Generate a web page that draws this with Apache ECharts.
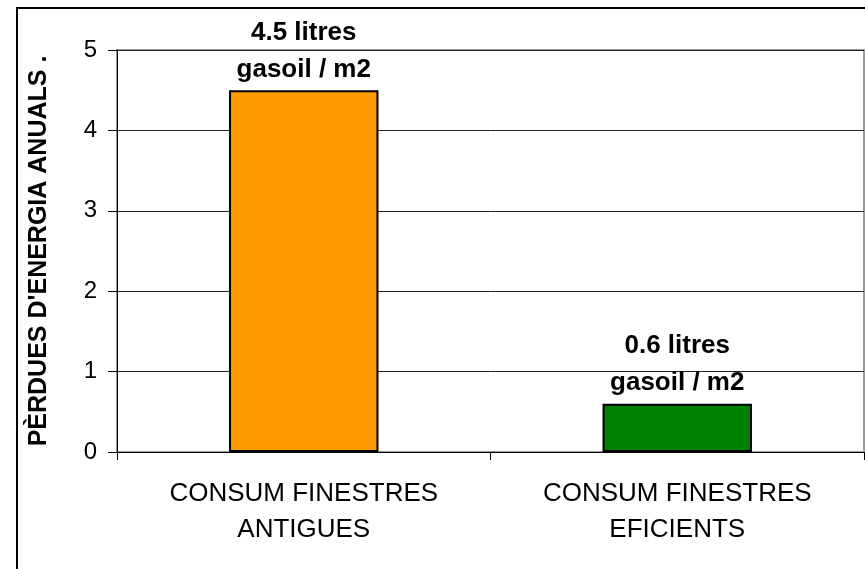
<!DOCTYPE html>
<html>
<head>
<meta charset="utf-8">
<title>Pèrdues d'energia anuals</title>
<script src="https://cdn.jsdelivr.net/npm/echarts@6/dist/echarts.min.js"></script>
<style>
html, body { margin: 0; padding: 0; background: #fff; }
#chart { width: 865px; height: 569px; }
</style>
</head>
<body>
<div id="chart"></div>
<script>
// dades del gràfic
var categories = ['CONSUM FINESTRES\nANTIGUES', 'CONSUM FINESTRES\nEFICIENTS'];
var values = [4.5, 0.6];
var barColors = ['#FF9900', '#008000'];
var barLabels = ['4.5 litres\ngasoil / m2', '0.6 litres\ngasoil / m2'];
var yTicks = [0, 1, 2, 3, 4, 5];

var chart = echarts.init(document.getElementById('chart'));
var font = '"Liberation Sans", Arial, sans-serif';

var option = {
	animation: false,
	textStyle: { fontFamily: font },
	graphic: [{
		type: 'rect',
		shape: { x: 17, y: 8, width: 900, height: 600 },
		style: { fill: 'none', stroke: '#000', lineWidth: 2 },
		silent: true
	}],
	grid: {
		left: 117, top: 50, right: 1, bottom: 117,
		show: true, borderColor: '#999', borderWidth: 2, backgroundColor: '#fff'
	},
	xAxis: {
		type: 'category',
		data: categories,
		axisLine: { lineStyle: { color: '#000', width: 1 } },
		axisTick: { show: true, length: 8, lineStyle: { color: '#000' } },
		axisLabel: { color: '#000', fontSize: 26, lineHeight: 36, margin: 24, fontFamily: font }
	},
	yAxis: {
		type: 'value',
		min: yTicks[0], max: yTicks[yTicks.length - 1], interval: 1,
		name: "PÈRDUES D'ENERGIA ANUALS .",
		nameLocation: 'middle',
		nameGap: 65,
		nameTextStyle: { fontSize: 25, fontWeight: 'bold', color: '#000', fontFamily: font },
		axisLine: { show: true, lineStyle: { color: '#000', width: 1 } },
		axisTick: { show: true, length: 9, lineStyle: { color: '#000' } },
		axisLabel: { color: '#000', fontSize: 24, margin: 20, fontFamily: font },
		splitLine: { show: true, lineStyle: { color: '#222', width: 1 } }
	},
	series: [{
		type: 'bar',
		barWidth: '40%',
		data: values.map(function (v, i) {
			return {
				value: v,
				itemStyle: { color: barColors[i], borderColor: '#000', borderWidth: 2 },
				label: { formatter: barLabels[i] }
			};
		}),
		label: {
			show: true,
			position: 'top',
			distance: 2,
			color: '#000',
			fontSize: 26,
			fontWeight: 'bold',
			lineHeight: 37,
			fontFamily: font
		}
	}]
};
chart.setOption(option);
</script>
</body>
</html>
